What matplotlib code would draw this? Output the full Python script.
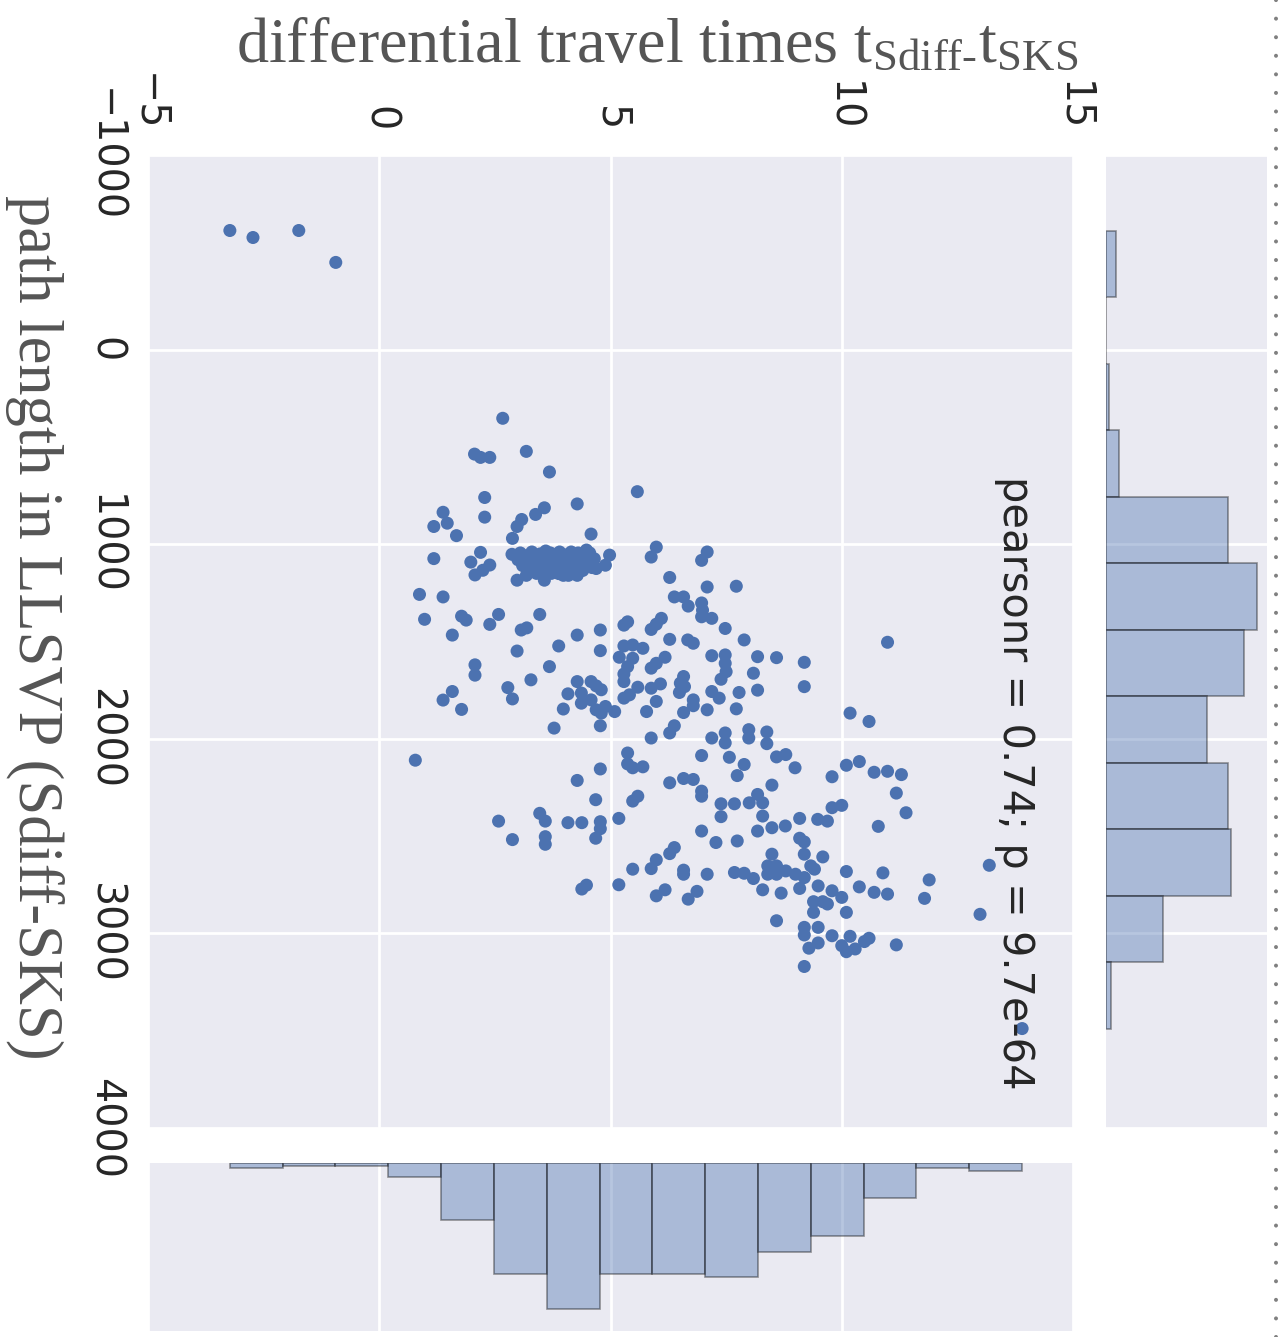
import numpy as np
import matplotlib
matplotlib.use('Agg')
import matplotlib.pyplot as plt
from matplotlib.lines import Line2D

plt.rcParams['mathtext.fontset'] = 'custom'
plt.rcParams['mathtext.rm'] = 'Liberation Serif'
plt.rcParams['mathtext.it'] = 'Liberation Serif:italic'

# differential travel times t_Sdiff - t_SKS (s)
dt = [
    -3.23, -2.73, -1.74, -0.94,
    2.67, 2.06, 2.19, 2.39, 3.18, 3.68, 5.58, 2.28, 4.28, 1.38,
    1.47, 1.18, 2.28, 3.57, 3.38, 3.08, 2.98, 1.67, 2.88, 4.58,
    1.18, 2.19, 1.98, 2.39, 2.24, 2.07, 2.87,
    2.98, 3.18, 3.57, 3.88, 4.09, 4.28, 4.69, 4.89, 4.98,
    # dense blob
    3.05, 3.15, 3.22, 3.30, 3.35, 3.42, 3.48, 3.52, 3.58, 3.10,
    3.25, 3.40, 3.55, 3.00, 3.33, 3.60,
    3.66, 3.70, 3.75, 3.80, 3.84, 3.90, 3.95, 4.00, 4.05, 4.10,
    4.15, 4.20, 4.25, 4.30, 4.35, 4.40, 4.45, 4.50, 4.55, 4.60,
    4.65, 3.72, 3.98, 4.22, 4.48, 3.88,
    #
    0.87, 1.38, 0.98, 1.58, 1.78, 1.88, 2.39, 2.58, 3.47, 3.07,
    3.19, 4.28, 4.78, 3.88, 2.98, 4.78, 2.07, 2.07, 3.68, 3.28,
    2.78, 2.88, 1.58, 1.38, 1.78, 4.28, 4.58, 4.69, 4.80, 4.08,
    4.37, 4.37, 4.58, 4.69, 4.89, 4.80, 5.09, 3.98, 3.78, 4.78,
    #
    5.99, 5.88, 7.09, 6.97, 6.28, 7.09, 7.72, 6.38, 6.58, 6.68,
    6.97, 6.99, 6.97, 7.19, 7.48, 5.37, 5.29, 6.10, 5.99, 5.88,
    6.28, 6.67, 6.79, 5.29, 5.48, 5.70, 5.19, 5.48, 5.37, 5.29,
    5.29, 6.18, 5.99, 5.88, 7.19, 7.48, 7.48, 7.50, 7.39, 6.58,
    6.51, 6.60, 6.49, 5.59, 5.88, 6.08, 5.29, 5.41, 5.99, 5.78,
    6.79, 6.79, 6.58, 7.09, 7.19, 7.35, 7.72, 6.38, 6.28, 5.88,
    7.19, 7.48,
    #
    0.78, 7.48, 5.37, 5.37, 5.48, 5.70, 4.78, 4.28, 4.68, 6.28,
    6.58, 6.79, 6.97, 7.57, 7.74, 6.97, 6.97, 5.59, 5.48, 7.39,
    7.68, 7.39, 5.18, 2.58, 3.47, 3.59, 4.08, 4.38, 4.78, 4.78,
    4.68, 2.88, 3.59, 3.59, 6.97, 7.28, 7.74, 6.38, 6.28, 5.99,
    5.88, 5.48, 6.58, 6.58, 7.09, 7.68, 4.48, 4.38, 5.18, 6.18,
    5.99, 6.87, 6.68,
    #
    7.99, 8.38, 7.89, 8.59, 8.79, 8.99, 8.49, 9.79, 10.10, 10.38,
    10.70, 10.99, 11.29, 11.18, 11.39, 10.79, 9.79, 10.00, 9.48, 9.69,
    9.09, 8.78, 8.49, 8.18, 8.29, 8.18, 8.29, 8.00,
    9.09, 9.19, 8.49, 9.19, 9.59, 8.40, 8.59, 8.79, 8.40, 8.59,
    9.00, 9.19, 9.33, 9.41,
    7.89, 8.09, 8.29, 8.69, 9.09, 9.49, 9.79, 10.00, 9.39, 9.59,
    9.69, 10.10, 9.39, 8.59, 10.10, 10.38, 10.70, 10.99, 10.89, 11.89,
    11.79, 13.19, 12.99, 9.19, 9.49, 9.19, 9.49, 9.29, 9.79, 10.00,
    10.10, 10.29, 10.18, 10.49, 10.59, 11.18, 9.19, 13.90,
    7.89, 8.18, 8.59, 9.19, 8.09, 7.78, 8.18, 9.19, 10.99, 10.18,
    10.59, 7.99, 8.38,
]

# path length in LLSVP (km), same order as dt
path = [
    -612, -576, -612, -448,
    353, 537, 554, 554, 523, 629, 730, 760, 793, 836,
    892, 909, 861, 813, 847, 873, 909, 956, 970, 948,
    1074, 1042, 1092, 1107, 1134, 1158, 1052,
    1185, 1160, 1185, 1151, 1160, 1160, 1125, 1108, 1056,
    # dense blob
    1045, 1060, 1090, 1040, 1120, 1075, 1050, 1105, 1140, 1110,
    1135, 1150, 1068, 1080, 1098, 1035,
    1085, 1045, 1120, 1060, 1100, 1040, 1080, 1130, 1055, 1095,
    1040, 1115, 1070, 1045, 1100, 1135, 1060, 1090, 1045, 1120,
    1075, 1150, 1160, 1145, 1030, 1125,
    #
    1258, 1271, 1386, 1467, 1370, 1390, 1412, 1361, 1361, 1441,
    1430, 1467, 1441, 1523, 1549, 1547, 1620, 1673, 1629, 1697,
    1737, 1795, 1757, 1801, 1849, 1706, 1706, 1728, 1748, 1769,
    1765, 1817, 1800, 1851, 1834, 1868, 1860, 1847, 1945, 1933,
    #
    1015, 1066, 1040, 1083, 1171, 1220, 1216, 1271, 1271, 1318,
    1302, 1339, 1373, 1381, 1433, 1399, 1416, 1381, 1411, 1438,
    1489, 1492, 1509, 1523, 1518, 1535, 1581, 1586, 1629, 1667,
    1706, 1581, 1612, 1637, 1573, 1569, 1612, 1655, 1694, 1680,
    1714, 1732, 1762, 1735, 1740, 1718, 1791, 1774, 1808, 1860,
    1800, 1830, 1865, 1851, 1757, 1791, 1846, 1933, 1970, 1996,
    1996, 1970,
    #
    2110, 2021, 2073, 2129, 2149, 2144, 2155, 2214, 2313, 2226,
    2204, 2209, 2086, 2095, 2189, 2269, 2295, 2295, 2320, 2334,
    2334, 2400, 2409, 2423, 2383, 2423, 2431, 2431, 2426, 2462,
    2511, 2518, 2503, 2542, 2474, 2533, 2525, 2559, 2590, 2622,
    2667, 2670, 2675, 2696, 2696, 2687, 2752, 2772, 2750, 2776,
    2807, 2784, 2824,
    #
    1996, 2025, 2132, 2093, 2081, 2149, 2238, 2195, 2136, 2117,
    2172, 2167, 2184, 2279, 2380, 2450, 2354, 2342, 2414, 2423,
    2409, 2448, 2457, 2474, 2397, 2286, 2329, 2329,
    2511, 2530, 2593, 2593, 2607, 2653, 2653, 2679, 2696, 2696,
    2696, 2713, 2653, 2670,
    2691, 2718, 2776, 2793, 2769, 2756, 2781, 2815, 2837, 2837,
    2849, 2892, 2892, 2935, 2682, 2761, 2789, 2798, 2689, 2725,
    2820, 2650, 2902, 2969, 2969, 3008, 3049, 3076, 3012, 3063,
    3094, 3080, 3015, 3042, 3025, 3059, 3170, 3489,
    1492, 1578, 1583, 1607, 1663, 1762, 1750, 1732, 1504, 1868,
    1911, 1953, 1965,
]

# marginal histogram counts
dt_counts = [2, 1, 1, 5, 21, 41, 54, 41, 41, 42, 33, 27, 13, 2, 3]
path_counts = [4, 0, 1, 5, 47, 58, 53, 39, 47, 48, 22, 2]

dt_ticks = [-5, 0, 5, 10, 15]
path_ticks = [-1000, 0, 1000, 2000, 3000, 4000]

stat_text = 'pearsonr = 0.74; p = 9.7e-64'
xlabel = r'differential travel times $\mathrm{t_{Sdiff\text{-}}t_{SKS}}$'
ylabel = 'path length in LLSVP (Sdiff-SKS)'

blue = '#4C72B0'
bg = '#EAEAF2'
W, H = 1279, 1337

fig = plt.figure(figsize=(W / 100, H / 100), dpi=100)
ax = fig.add_axes([148 / W, 1 - 1128 / H, 925 / W, 973 / H])
ax_b = fig.add_axes([148 / W, 1 - 1331 / H, 925 / W, 168 / H], sharex=ax)
ax_r = fig.add_axes([1106 / W, 1 - 1128 / H, 161 / W, 973 / H], sharey=ax)

for a in (ax, ax_b, ax_r):
    a.set_facecolor(bg)
    a.set_axisbelow(True)
    for s in a.spines.values():
        s.set_visible(False)

# main scatter
ax.scatter(dt, path, s=88, color=blue, edgecolors='none', zorder=3)
ax.set_xlim(-5, 15)
ax.set_ylim(4000, -1000)
ax.set_xticks(dt_ticks)
ax.set_yticks(path_ticks)
ax.grid(True, color='white', lw=2)
ax.xaxis.tick_top()
ax.tick_params(length=0, labelsize=28.5, colors='#262626', pad=17)
for t in ax.get_xticklabels():
    t.set_rotation(270)
for t in ax.get_yticklabels():
    t.set_rotation(270)
    t.set_va('center')

ax.set_xlabel(xlabel, fontsize=46.2, color='#555555', family='Liberation Serif')
ax.xaxis.set_label_position('top')
ax.xaxis.set_label_coords(0.550, 1.095)
ax.set_ylabel(ylabel, fontsize=45, color='#555555', family='Liberation Serif',
              rotation=270)
ax.yaxis.set_label_coords(-0.1546, 0.515)
ax.yaxis.label.set_va('bottom')

ax.text(0.937, 0.039, stat_text, transform=ax.transAxes, rotation=270,
        ha='center', va='bottom', fontsize=30, color='#262626')

# bottom marginal: travel times
dt_edges = np.linspace(min(dt), max(dt), len(dt_counts) + 1)
ax_b.bar(dt_edges[:-1], dt_counts, width=np.diff(dt_edges), align='edge',
         color=blue, alpha=0.4, edgecolor='black', linewidth=1.2)
ax_b.set_ylim(62, 0)
ax_b.xaxis.grid(True, color='white', lw=2)
ax_b.yaxis.grid(False)
ax_b.tick_params(length=0, labelbottom=False, labeltop=False, labelleft=False)

# right marginal: path length
path_edges = np.linspace(min(path), max(path), len(path_counts) + 1)
ax_r.barh(path_edges[:-1], path_counts, height=np.diff(path_edges), align='edge',
          color=blue, alpha=0.4, edgecolor='black', linewidth=1.2)
ax_r.set_xlim(0, 62)
ax_r.yaxis.grid(True, color='white', lw=2)
ax_r.xaxis.grid(False)
ax_r.tick_params(length=0, labelbottom=False, labelleft=False, labelright=False)

fig.add_artist(Line2D([1276 / W, 1276 / W], [0, 1], transform=fig.transFigure,
                      color='#808080', lw=2.9, linestyle=(0, (0.01, 4.6)),
                      dash_capstyle='round'))

fig.savefig('out.png', dpi=100)
